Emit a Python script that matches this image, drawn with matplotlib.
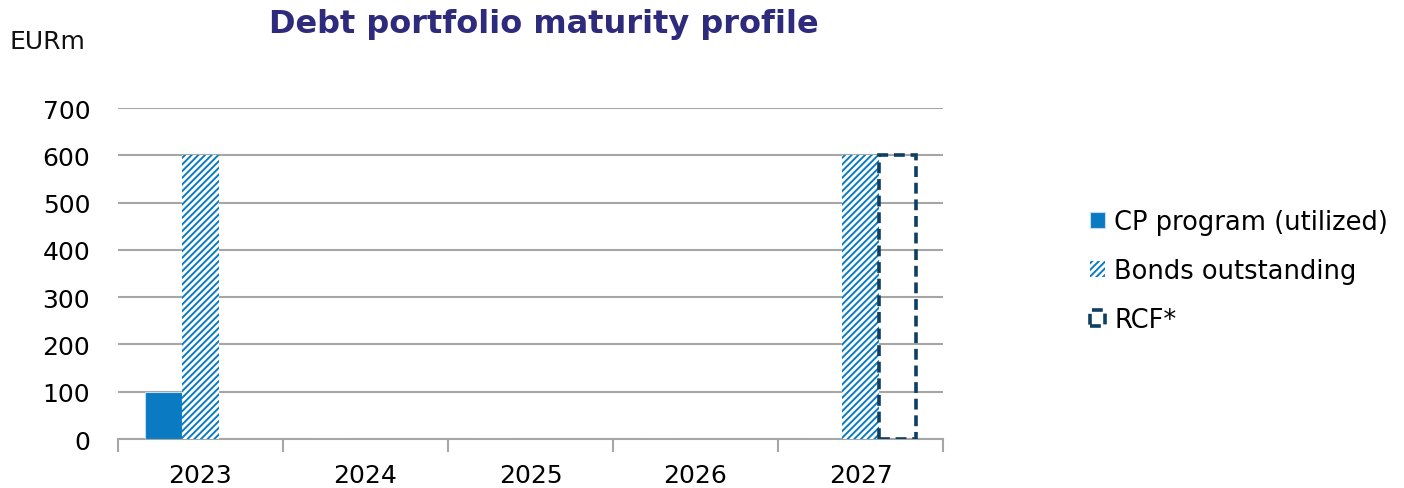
import matplotlib.pyplot as plt
import numpy as np

plt.rcParams['font.family'] = ['DejaVu Sans']
plt.rcParams['hatch.linewidth'] = 1.4

years = ['2023', '2024', '2025', '2026', '2027']
cp_program = [100, 0, 0, 0, 0]
bonds = [600, 0, 0, 0, 600]
rcf = [0, 0, 0, 0, 600]

blue = '#0A7BC2'
navy = '#0F3F60'
grid_gray = '#A6A6A6'

fig = plt.figure(figsize=(14.04, 4.89), dpi=100)
ax = fig.add_axes([0.084, 0.1002, 0.5877, 0.6768])

x = np.arange(len(years))
w = 0.222

ax.bar(x - w, cp_program, w, color=blue, edgecolor='#BFDDF0', linewidth=0.8,
       label='CP program (utilized)', zorder=3)
ax.bar(x, bonds, w, color='white', edgecolor=blue, hatch='/////', linewidth=0,
       label='Bonds outstanding', zorder=3)
# RCF drawn only where a facility exists
rcf_x = [xi + w for xi, v in zip(x, rcf) if v > 0]
rcf_v = [v for v in rcf if v > 0]
ax.bar(rcf_x, rcf_v, w, color='none', edgecolor=navy, linewidth=2.6,
       linestyle=(0, (3, 1.6)), label='RCF*', zorder=4)

ax.set_xlim(-0.5, len(years) - 0.5)
ax.set_ylim(0, 700)
ax.set_yticks(range(0, 701, 100))
ax.yaxis.grid(True, color=grid_gray, linewidth=1.5, zorder=0)
ax.set_axisbelow(True)

ax.set_xticks(x)
ax.set_xticklabels(years)
ax.set_xticks(np.arange(-0.5, len(years)), minor=True)
ax.tick_params(axis='x', which='major', length=0, pad=17, labelsize=18)
ax.tick_params(axis='x', which='minor', length=9, width=1.5, color=grid_gray)
ax.tick_params(axis='y', length=0, pad=20, labelsize=18)

for side in ['left', 'right', 'top']:
    ax.spines[side].set_visible(False)
ax.spines['bottom'].set_color(grid_gray)
ax.spines['bottom'].set_linewidth(1.5)

fig.text(0.387, 0.95, 'Debt portfolio maturity profile', ha='center', va='center',
         fontsize=23, fontweight='bold', color='#2E2A7C')
fig.text(0.007, 0.915, 'EURm', ha='left', va='center', fontsize=18, color='#111111')

ax.legend(loc='center left', bbox_to_anchor=(0.7764, 0.444), bbox_transform=fig.transFigure,
          frameon=False, fontsize=18.5, handlelength=0.6, handleheight=0.6,
          handletextpad=0.35, labelspacing=0.9, borderpad=0, borderaxespad=0)

fig.savefig('out.png', dpi=100)
